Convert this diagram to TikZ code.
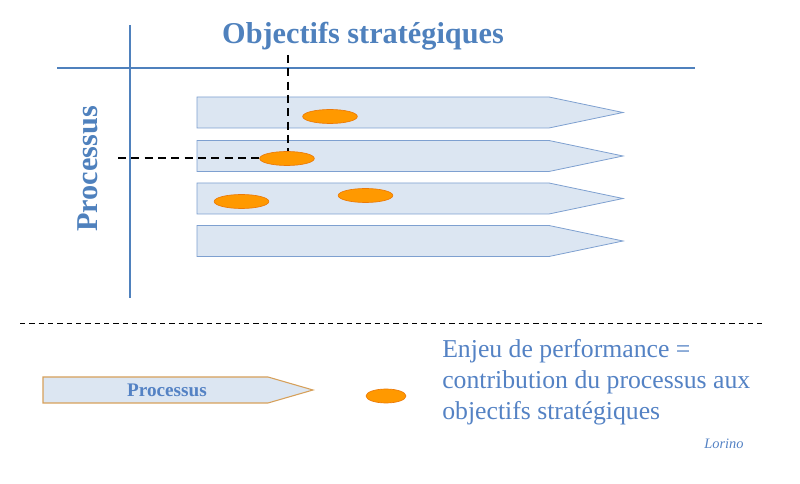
\documentclass[tikz,border=0pt]{standalone}
\usepackage{fontspec}
\setmainfont{Liberation Serif}
\usetikzlibrary{shapes.geometric, positioning}

\definecolor{axisblue}{RGB}{79,129,189}
\definecolor{procfill}{RGB}{220,230,242}
\definecolor{procline}{RGB}{126,160,208}
\definecolor{enjeu}{RGB}{255,153,0}
\definecolor{enjeuline}{RGB}{228,108,10}
\definecolor{textblue}{RGB}{84,130,196}
\definecolor{legline}{RGB}{214,160,90}

\tikzset{
  procbar/.style={fill=procfill, draw=procline, line width=0.6pt},
  enjeunode/.style={ellipse, fill=enjeu, draw=enjeuline!70!enjeu, line width=0.5pt,
    minimum width=41pt, minimum height=10.5pt, inner sep=0pt},
  guide/.style={black, line width=1.5pt, dash pattern=on 6pt off 4pt},
}

\begin{document}
\begin{tikzpicture}[x=0.75pt, y=-0.75pt]
  \useasboundingbox (0,0) rectangle (800,484);

  % axes
  \draw[axisblue, line width=1.5pt] (130,25) -- (130,298);
  \draw[axisblue, line width=1.5pt] (57,68) -- (695,68);
  \node[font=\bfseries\fontsize{22.7}{27}\selectfont, text=axisblue] (objectifs) at (363,36) {Objectifs stratégiques};
  \node[font=\bfseries\fontsize{22.7}{27}\selectfont, text=axisblue, rotate=90] (processus) at (88,169) {Processus};

  % process bars
  \foreach \y in {112.5,156,198.5,241}
    \draw[procbar] (197,{\y-15.5}) -- (549,{\y-15.5}) -- (623,\y) -- (549,{\y+15.5}) -- (197,{\y+15.5}) -- cycle;

  % stakes
  \node[enjeunode] (e1) at (330,116.5) {};
  \node[enjeunode] (e2) at (287,158.5) {};
  \node[enjeunode] (e3) at (241.5,201.5) {};
  \node[enjeunode] (e4) at (365.5,195.5) {};

  \coordinate (vtop) at (288,55);
  \coordinate (hleft) at (118,158.5);
  \draw[guide] (vtop) -- (vtop |- e2.north);
  \draw[guide] (hleft) -- (e2.west);

  % separator
  \draw[black, line width=0.6pt, dash pattern=on 4pt off 3pt] (20,323) -- (762,323);

  % legend
  \draw[fill=procfill, draw=legline, line width=0.8pt] (43,377) -- (268,377) -- (313,390) -- (268,403) -- (43,403) -- cycle;
  \node[font=\bfseries\fontsize{14.4}{17}\selectfont, text=textblue] (legproc) at (167,390) {Processus};
  \node[enjeunode, minimum width=30pt] (legenjeu) at (386,396) {};
  \node[anchor=north west, inner sep=0pt, align=left, text=textblue,
    font=\fontsize{19.3}{23.25}\selectfont] (legtext) at (442,339)
    {Enjeu de performance =\\contribution du processus aux\\objectifs stratégiques};
  \node[anchor=base, font=\itshape\fontsize{10.8}{12}\selectfont, text=textblue] (lorino) at (724,449) {Lorino};
\end{tikzpicture}
\end{document}
